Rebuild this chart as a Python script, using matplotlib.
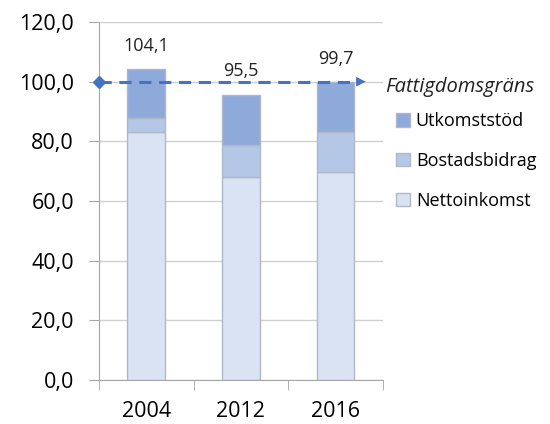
import matplotlib.pyplot as plt
import numpy as np

years = ["2004", "2012", "2016"]
nettoinkomst = [83.2, 68.2, 69.8]
bostadsbidrag = [4.7, 10.7, 13.3]
utkomststod = [16.2, 16.6, 16.7]
totals = [104.1, 95.5, 99.7]
grans = 100.0

plt.rcParams['font.family'] = ['Open Sans', 'DejaVu Sans']

fig = plt.figure(figsize=(5.5, 4.24), dpi=100)
ax = fig.add_axes([0.18, 0.104, 0.516, 0.844])

x = np.arange(len(years))
w = 0.4
edge = "#b0b8c8"
c_netto = "#dae3f3"
c_bost = "#b4c7e7"
c_utk = "#8eaadb"

b1 = ax.bar(x, nettoinkomst, w, color=c_netto, edgecolor=edge, linewidth=1, zorder=3, label="Nettoinkomst")
b2 = ax.bar(x, bostadsbidrag, w, bottom=nettoinkomst, color=c_bost, edgecolor=edge, linewidth=1, zorder=3, label="Bostadsbidrag")
bottom2 = np.array(nettoinkomst) + np.array(bostadsbidrag)
b3 = ax.bar(x, utkomststod, w, bottom=bottom2, color=c_utk, edgecolor=edge, linewidth=1, zorder=3, label="Utkomststöd")

for xi, t in zip(x, totals):
    ax.annotate(f"{t:.1f}".replace(".", ","), (xi, t), xytext=(0, 17), textcoords="offset points",
                ha="center", va="center", fontsize=13, color="#222222", zorder=5)

# poverty line
line_color = "#4472c4"
ax.plot([-0.5, 2.25], [grans, grans], ls=(0, (4, 2.5)), lw=2.2, color=line_color, zorder=4,
        marker="D", markersize=6, markevery=[0], clip_on=False)
ax.annotate("", xy=(2.35, grans), xytext=(2.2, grans),
            arrowprops=dict(arrowstyle="-|>,head_length=0.7,head_width=0.35", color=line_color, lw=0),
            zorder=4, annotation_clip=False)
ax.text(2.53, grans - 1.8, "Fattigdomsgräns", style="italic", fontsize=14.5, va="center", ha="left", color="#222222")

ax.set_xlim(-0.5, 2.5)
ax.set_ylim(0, 120)
ax.set_yticks(np.arange(0, 121, 20))
ax.set_yticklabels([f"{v:.1f}".replace(".", ",") for v in np.arange(0, 121, 20)], fontsize=15.5)
ax.set_xticks(x)
ax.set_xticklabels(years, fontsize=15.5)
ax.set_xticks([-0.5, 0.5, 1.5, 2.5], minor=True)
ax.tick_params(axis="x", which="major", length=0, pad=15)
ax.tick_params(axis="x", which="minor", length=7, color="#a6a6a6", direction="out")
ax.tick_params(axis="y", length=7, color="#a6a6a6", pad=11)

ax.grid(axis="y", color="#d0d0d0", lw=1, zorder=0)
for s in ["top", "right"]:
    ax.spines[s].set_visible(False)
for s in ["left", "bottom"]:
    ax.spines[s].set_color("#a6a6a6")

leg = fig.legend(handles=[b3, b2, b1], loc="upper left", bbox_to_anchor=(0.697, 0.765),
                 frameon=False, fontsize=13, handlelength=0.75, handleheight=0.75,
                 handletextpad=0.35, labelspacing=1.2, borderpad=0.2)

fig.savefig("out.png", dpi=100)
